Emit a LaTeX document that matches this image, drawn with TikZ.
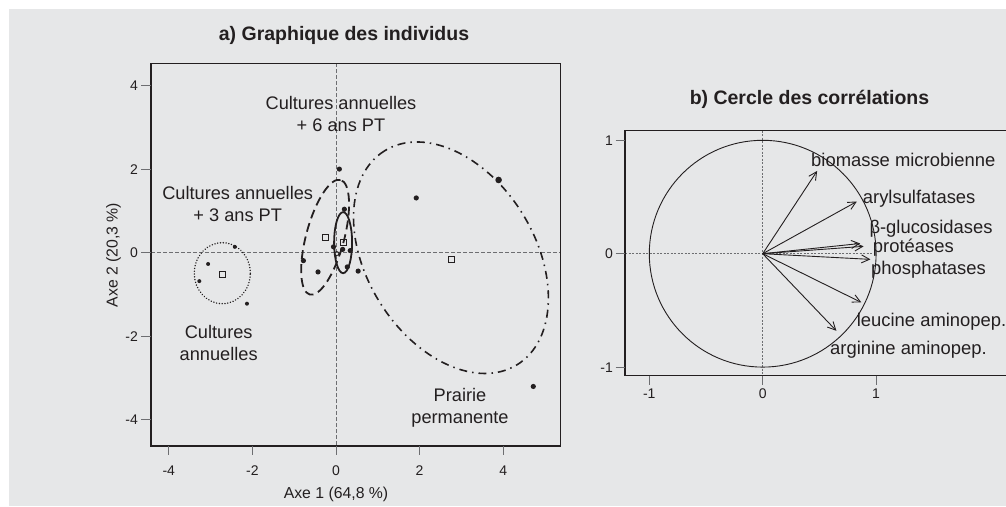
\documentclass[tikz,border=0pt]{standalone}
\usepackage{fontspec}
\setmainfont{Liberation Sans}
\usetikzlibrary{arrows.meta}
\definecolor{bg}{HTML}{E6E7E8}
\definecolor{ink}{HTML}{231F20}
\definecolor{gr}{HTML}{6D6E71}
\begin{document}
\begin{tikzpicture}[x=1pt,y=-1pt,
  frame/.style={draw=ink, line width=1.2pt},
  tickmark/.style={draw=gr, line width=1pt},
  refline/.style={draw=gr, line width=0.9pt, dash pattern=on 3.5pt off 2.5pt},
  reflineb/.style={draw=gr, line width=0.9pt, dash pattern=on 2pt off 1.5pt},
  ticklab/.style={font=\fontsize{14}{16}\selectfont, text=ink, inner sep=0pt},
  axlab/.style={font=\fontsize{15.8}{18}\selectfont, text=ink, inner sep=0pt, anchor=base},
  grplab/.style={font=\fontsize{18.2}{22}\selectfont, text=ink, inner sep=0pt, anchor=base},
  varlab/.style={font=\fontsize{18.4}{22}\selectfont, text=ink, inner sep=0pt, anchor=base west},
  ttl/.style={font=\bfseries\fontsize{19.5}{23}\selectfont, text=ink, inner sep=0pt, anchor=base},
  dots/.style={circle, fill=ink, inner sep=0pt, minimum size=4pt},
  dotm/.style={circle, fill=ink, inner sep=0pt, minimum size=5.2pt},
  dotl/.style={circle, fill=ink, inner sep=0pt, minimum size=6.6pt},
  sqr/.style={rectangle, draw=ink, line width=0.9pt, inner sep=0pt, minimum size=6pt},
  opendot/.style={circle, draw=ink, line width=0.8pt, inner sep=0pt, minimum size=4pt},
  elldot/.style={draw=ink, line width=1.6pt, line cap=round, dash pattern=on 0.01pt off 2.8pt},
  elldash/.style={draw=ink, line width=1.8pt, dash pattern=on 9pt off 5pt},
  ellsolid/.style={draw=ink, line width=1.8pt},
  elldashdot/.style={draw=ink, line width=1.6pt, dash pattern=on 8pt off 5pt on 1.5pt off 5pt},
  circ/.style={draw=ink, line width=0.9pt},
  vec/.style={draw=ink, line width=0.9pt, -{Straight Barb[length=8pt,width=8pt]}}
]
\useasboundingbox (0,0) rectangle (1006,506);
\fill[white] (0,0) rectangle (1006,506);
\fill[bg] (9,9) rectangle (1006,506);

% ---------- left panel ----------
\node[ttl] (ttla) at (344,40) {a) Graphique des individus};
\draw[refline] (151,252.7) -- (560.7,252.7);
\draw[refline] (336,63.3) -- (336,446);
\draw[frame] (151,63.3) rectangle (560.7,446);
\foreach \k/\t in {4/4,2/2,0/0,-2/-2,-4/-4}{
  \draw[tickmark] (141,252.7-41.8*\k) -- (151,252.7-41.8*\k);
  \node[ticklab, anchor=base east] (ya\k) at (138,257.7-41.8*\k) {\t};
}
\foreach \k/\t in {-4/-4,-2/-2,0/0,2/2,4/4}{
  \draw[tickmark] (336+41.8*\k,446) -- (336+41.8*\k,455);
  \node[ticklab, anchor=base] (xa\k) at (336+41.8*\k,475) {\t};
}
\node[axlab] (axe1) at (336,498) {Axe 1 (64,8 \%)};
\node[axlab, rotate=90] (axe2) at (117.5,255) {Axe 2 (20,3 \%)};

\begin{scope}[shift={(336,252.7)}, x=41.8pt, y=41.8pt]
  % ellipses
  \draw[elldot] (-2.72,-0.49) ellipse [x radius=0.67, y radius=0.73];
  \draw[elldash, rotate around={75:(-0.26,0.37)}] (-0.26,0.37) ellipse [x radius=1.42, y radius=0.455];
  \draw[ellsolid] (0.17,0.24) ellipse [x radius=0.215, y radius=0.73];
  \draw[elldashdot, rotate around={121.8:(2.75,-0.12)}] (2.75,-0.12) ellipse [x radius=3.01, y radius=2.01];
  % cultures annuelles
  \node[dots] (a1) at (-2.42,0.14) {};
  \node[dots] (a2) at (-3.06,-0.27) {};
  \node[dots] (a3) at (-3.27,-0.68) {};
  \node[dots] (a4) at (-2.13,-1.22) {};
  \node[sqr] (ga) at (-2.72,-0.51) {};
  % + 3 ans PT
  \node[dotm] (b1) at (-0.78,-0.19) {};
  \node[dotm] (b2) at (-0.43,-0.46) {};
  \node[dotm] (b3) at (-0.06,0.14) {};
  \node[dotm] (b4) at (0.08,2.0) {};
  \node[sqr] (gb) at (-0.25,0.37) {};
  % + 6 ans PT
  \node[dotm] (c1) at (0.2,1.04) {};
  \node[dotm] (c2) at (0.16,0.08) {};
  \node[dotm] (c3) at (0.34,0.05) {};
  \node[dotm] (c4) at (0.27,-0.34) {};
  \node[opendot] (c5) at (0.02,-0.02) {};
  \node[sqr] (gc) at (0.18,0.24) {};
  % prairie permanente
  \node[dotm] (d1) at (1.92,1.31) {};
  \node[dotl] (d2) at (3.89,1.74) {};
  \node[dotm] (d3) at (0.53,-0.44) {};
  \node[dotm] (d4) at (4.72,-3.2) {};
  \node[sqr] (gd) at (2.75,-0.15) {};
\end{scope}

\node[grplab] (l6a) at (341,109.3) {Cultures annuelles};
\node[grplab] (l6b) at (341,131.7) {+ 6 ans PT};
\node[grplab] (l3a) at (237.7,199.3) {Cultures annuelles};
\node[grplab] (l3b) at (237.7,221.7) {+ 3 ans PT};
\node[grplab] (l0a) at (218.7,338.3) {Cultures};
\node[grplab] (l0b) at (218.7,360) {annuelles};
\node[grplab] (lpa) at (460,401) {Prairie};
\node[grplab] (lpb) at (460,423.3) {permanente};

% ---------- right panel ----------
\node[ttl] (ttlb) at (809.5,104) {b) Cercle des corrélations};
\draw[reflineb] (625,253.7) -- (873,253.7);
\draw[reflineb] (762.7,130.7) -- (762.7,375.7);
\draw[frame] (1006,130.7) -- (625,130.7) -- (625,375.7) -- (1006,375.7);
\foreach \k/\t in {1/1,0/0,-1/-1}{
  \draw[tickmark] (615.5,253.7-113.4*\k) -- (625,253.7-113.4*\k);
  \node[ticklab, anchor=base east] (yb\k) at (613,258.7-113.4*\k) {\t};
}
\foreach \k/\t in {-1/-1,0/0,1/1}{
  \draw[tickmark] (762.7+113.4*\k,375.7) -- (762.7+113.4*\k,385);
  \node[ticklab, anchor=base] (xb\k) at (762.7+113.4*\k,398.5) {\t};
}
\begin{scope}[shift={(762.7,253.7)}, x=113.4pt, y=113.4pt]
  \draw[circ] (0,0) circle [radius=1];
  \coordinate (o) at (0,0);
  \coordinate (tbio) at (0.48,0.73);
  \coordinate (taryl) at (0.83,0.46);
  \coordinate (tglu) at (0.86,0.09);
  \coordinate (tpro) at (0.89,0.065);
  \coordinate (tpho) at (0.95,-0.05);
  \coordinate (tleu) at (0.87,-0.43);
  \coordinate (targ) at (0.65,-0.68);
  \foreach \t in {tbio,taryl,tglu,tpro,tpho,tleu,targ}{\draw[vec] (o) -- (\t);}
\end{scope}
\node[varlab] (vbio) at (811,166) {biomasse microbienne};
\node[varlab] (varyl) at (862.7,203.3) {arylsulfatases};
\node[varlab] (vglu) at (869.3,233.3) {β-glucosidases};
\node[varlab] (vpro) at (872.7,252.7) {protéases};
\node[varlab] (vpho) at (871,274.7) {phosphatases};
\node[varlab] (vleu) at (856.7,326.7) {leucine aminopep.};
\node[varlab] (varg) at (830,354) {arginine aminopep.};
\end{tikzpicture}
\end{document}
